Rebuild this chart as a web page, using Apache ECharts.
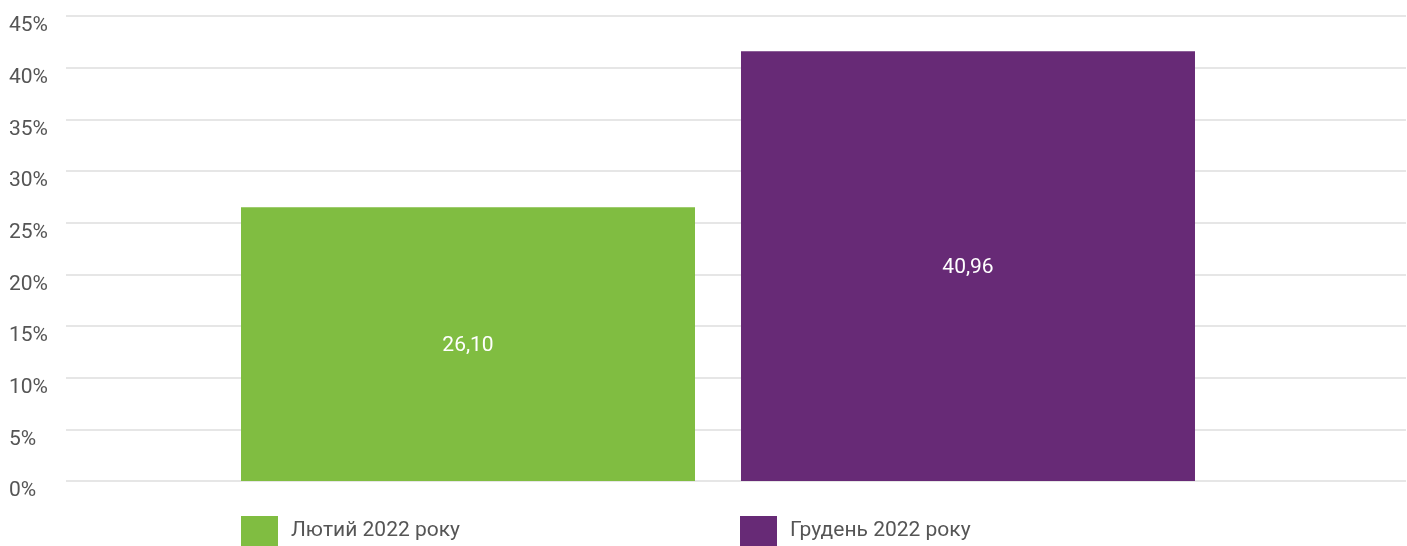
<!DOCTYPE html>
<html><head><meta charset="utf-8">
<script src="https://cdn.jsdelivr.net/npm/echarts@6/dist/echarts.min.js"></script>
<style>html,body{margin:0;padding:0;background:#fff}#c{width:1407px;height:546px}</style>
</head><body><div id="c"></div>
<script>
const categories = ['Лютий 2022 року', 'Грудень 2022 року'];
const barHeights = [26.5, 41.6];
const barLabels = ['26,10', '40,96'];
const yTicks = [0, 5, 10, 15, 20, 25, 30, 35, 40, 45];
const colors = ['#80bd41', '#672a76'];

const chart = echarts.init(document.getElementById('c'));
const font = 'Roboto';
const yMax = yTicks[yTicks.length - 1];
const yStep = yTicks[1] - yTicks[0];

chart.setOption({
  animation: false,
  textStyle: { fontFamily: font },
  grid: [
    { left: 66, right: 1, top: 16, bottom: 65 },
    { left: 66, right: 37, top: 16, bottom: 65 }
  ],
  xAxis: [
    { type: 'category', gridIndex: 0, data: [''], show: false },
    { type: 'category', gridIndex: 1, data: [''], show: false }
  ],
  yAxis: [
    {
      type: 'value', gridIndex: 0, min: 0, max: yMax, interval: yStep,
      axisLine: { show: false }, axisTick: { show: false },
      splitLine: { lineStyle: { color: '#e6e6e6', width: 2 } },
      axisLabel: {
        formatter: v => v + '%', align: 'left', margin: 57,
        verticalAlign: 'top', lineHeight: 20,
        color: '#555', fontSize: 21, fontFamily: font
      }
    },
    {
      type: 'value', gridIndex: 1, min: 0, max: yMax, interval: yStep,
      show: false, splitLine: { show: false }
    }
  ],
  legend: categories.map((name, i) => ({
    data: [name], left: i === 0 ? 241 : 740, top: 516,
    itemWidth: 37, itemHeight: 30, icon: 'rect', padding: 0,
    textStyle: { color: '#555', fontSize: 21, fontFamily: font, padding: [0, 0, 14, 8] }
  })),
  series: categories.map((name, i) => ({
    name, type: 'bar', xAxisIndex: 1, yAxisIndex: 1,
    data: [barHeights[i]], barWidth: 454, barGap: (46 / 454 * 100).toFixed(2) + '%',
    itemStyle: { color: colors[i] },
    label: {
      show: true, position: 'inside', color: '#fff', fontSize: 21, fontFamily: font,
      offset: [0, 2],
      formatter: () => barLabels[i]
    }
  }))
});
</script></body></html>
